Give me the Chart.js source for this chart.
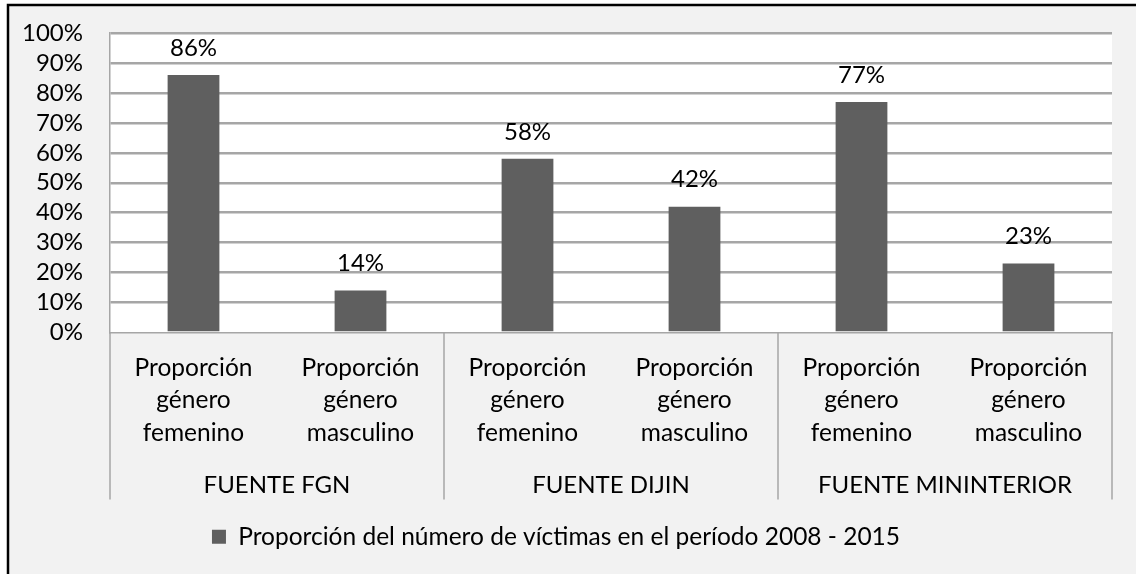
<!DOCTYPE html>
<html>
<head>
<meta charset="utf-8">
<script src="https://cdn.jsdelivr.net/npm/chart.js@4.4.1/dist/chart.umd.min.js"></script>
<style>
  html, body { margin:0; padding:0; background:#fff; }
  #wrap { width:1136px; height:574px; }
</style>
</head>
<body>
<div id="wrap"><canvas id="chart" width="1136" height="574"></canvas></div>
<script>
const categories = [
  ["Proporción", "género", "femenino"],
  ["Proporción", "género", "masculino"],
  ["Proporción", "género", "femenino"],
  ["Proporción", "género", "masculino"],
  ["Proporción", "género", "femenino"],
  ["Proporción", "género", "masculino"]
];
const groups = ["FUENTE FGN", "FUENTE DIJIN", "FUENTE MININTERIOR"];
const values = [86, 14, 58, 42, 77, 23];
const seriesName = "Proporción del número de víctimas en el período 2008 - 2015";

const FONT = "Lato";
const GRID = "#a6a6a6";
const BAR = "#5f5f5f";

const frame = {
  id: "frame",
  beforeDraw(c) {
    const ctx = c.ctx, a = c.chartArea;
    ctx.save();
    ctx.fillStyle = "#fff";
    ctx.fillRect(0, 0, c.width, c.height);
    ctx.fillStyle = "#f2f2f2";
    ctx.fillRect(8, 5, c.width - 8, c.height - 5);
    ctx.strokeStyle = "#000";
    ctx.lineWidth = 2.5;
    ctx.beginPath();
    ctx.moveTo(8, c.height);
    ctx.lineTo(8, 5);
    ctx.lineTo(c.width, 5);
    ctx.stroke();
    ctx.fillStyle = "#fff";
    ctx.fillRect(a.left, a.top, a.right - a.left, a.bottom - a.top);
    ctx.restore();
  },
  afterDatasetsDraw(c) {
    const ctx = c.ctx;
    const meta = c.getDatasetMeta(0);
    ctx.save();
    ctx.font = "24px " + FONT;
    ctx.fillStyle = "#000";
    ctx.textAlign = "center";
    ctx.textBaseline = "middle";
    meta.data.forEach((bar, i) => {
      ctx.fillText(values[i] + "%", bar.x, bar.y - 27);
    });
    ctx.restore();
  },
  afterDraw(c) {
    const ctx = c.ctx, x = c.scales.x, x2 = c.scales.x2;
    const step = (x.right - x.left) / categories.length;
    ctx.save();
    ctx.strokeStyle = GRID;
    ctx.lineWidth = 1.5;
    for (let g = 0; g <= groups.length; g++) {
      const px = x.left + g * 2 * step;
      ctx.beginPath();
      ctx.moveTo(px, x.top);
      ctx.lineTo(px, x2.bottom);
      ctx.stroke();
    }
    ctx.restore();
  }
};

new Chart(document.getElementById("chart"), {
  type: "bar",
  data: {
    labels: categories,
    datasets: [{
      label: seriesName,
      data: values,
      backgroundColor: BAR,
      borderWidth: 0,
      categoryPercentage: 1,
      barPercentage: 0.31
    }]
  },
  options: {
    responsive: false,
    animation: false,
    layout: { padding: { top: 33, right: 24, left: 0, bottom: 15 } },
    plugins: {
      legend: {
        position: "bottom",
        labels: {
          font: { family: FONT, size: 24.5 },
          color: "#000",
          boxWidth: 14,
          boxHeight: 14,
          padding: 25
        }
      },
      tooltip: { enabled: false }
    },
    scales: {
      y: {
        min: 0,
        max: 100,
        ticks: {
          stepSize: 10,
          autoSkip: false,
          callback: v => v + "%",
          font: { family: FONT, size: 24 },
          color: "#000",
          padding: 27
        },
        grid: {
          color: ctx => ctx.tick && ctx.tick.value === 0 ? "rgba(0,0,0,0)" : GRID,
          lineWidth: 2.5,
          drawTicks: false
        },
        border: { display: true, color: GRID, width: 1.5 },
        afterFit: s => { s.width = 110; s.paddingTop = 0; s.paddingBottom = 0; }
      },
      x: {
        ticks: {
          font: { family: FONT, size: 24.5, lineHeight: 1.33 },
          color: "#000",
          maxRotation: 0,
          autoSkip: false,
          padding: 19
        },
        grid: { display: false, drawTicks: false },
        border: { display: true, color: GRID, width: 1.5 },
        afterFit: s => { s.height = 122; }
      },
      x2: {
        type: "category",
        position: "bottom",
        labels: groups,
        offset: true,
        ticks: {
          font: { family: FONT, size: 24 },
          color: "#000",
          maxRotation: 0,
          autoSkip: false,
          padding: 16
        },
        grid: { display: false, drawTicks: false },
        border: { display: false },
        afterFit: s => { s.height = 45; }
      }
    }
  },
  plugins: [frame]
});
</script>
</body>
</html>
